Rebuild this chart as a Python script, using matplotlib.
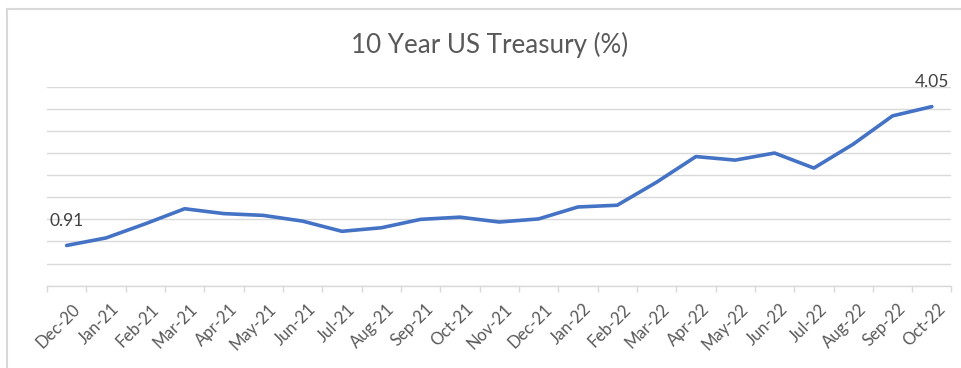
import matplotlib
matplotlib.use('Agg')
import matplotlib.pyplot as plt
import matplotlib.transforms as mtransforms
from matplotlib.lines import Line2D
import numpy as np

months = ['Dec-20', 'Jan-21', 'Feb-21', 'Mar-21', 'Apr-21', 'May-21', 'Jun-21',
          'Jul-21', 'Aug-21', 'Sep-21', 'Oct-21', 'Nov-21', 'Dec-21', 'Jan-22',
          'Feb-22', 'Mar-22', 'Apr-22', 'May-22', 'Jun-22', 'Jul-22', 'Aug-22',
          'Sep-22', 'Oct-22']
yields = [0.91, 1.08, 1.40, 1.74, 1.63, 1.59, 1.46, 1.23, 1.31, 1.50, 1.55,
          1.44, 1.51, 1.78, 1.82, 2.34, 2.92, 2.84, 3.00, 2.66, 3.20, 3.84, 4.05]

plt.rcParams['font.family'] = ['Lato', 'DejaVu Sans']

W, H = 962, 368
fig = plt.figure(figsize=(W / 100, H / 100), dpi=100)
fig.patch.set_facecolor('white')

# chart frame (top and left edges only show)
grey = '#d9d9d9'
fig.add_artist(Line2D([7 / W, 1], [1 - 9 / H, 1 - 9 / H], color=grey, lw=1.5))
fig.add_artist(Line2D([7 / W, 7 / W], [0, 1 - 9 / H], color=grey, lw=1.5))

left, right = 47 / W, 951.5 / W
bottom, top = 1 - 285.7 / H, 1 - 86.7 / H
ax = fig.add_axes([left, bottom, right - left, top - bottom])

x = np.arange(len(months))
ax.plot(x, yields, color='#4472C4', lw=2.6, solid_joinstyle='round',
        solid_capstyle='round', zorder=3)

ax.set_xlim(-0.5, len(months) - 0.5)
ax.set_ylim(0, 4.5)
ax.set_yticks(np.arange(0, 4.51, 0.5))
ax.yaxis.grid(True, color=grey, lw=1)
ax.tick_params(axis='y', left=False, labelleft=False)
for s in ['top', 'right', 'left']:
    ax.spines[s].set_visible(False)
ax.spines['bottom'].set_color(grey)
ax.spines['bottom'].set_linewidth(1)

ax.set_xticks(x)
ax.set_xticklabels(months, rotation=45, ha='right', va='top',
                   rotation_mode='anchor', fontsize=12, color='#595959')
ax.tick_params(axis='x', which='major', length=0, pad=11)
ax.set_xticks(np.arange(-0.5, len(months)), minor=True)
ax.tick_params(axis='x', which='minor', length=4, color=grey, width=1)

# nudge the slanted month labels a little to the right
shift = mtransforms.ScaledTranslation(5 / 100, 0, fig.dpi_scale_trans)
for lbl in ax.get_xticklabels():
    lbl.set_transform(lbl.get_transform() + shift)

# end-point labels
for i in (0, len(months) - 1):
    ax.annotate(f'{yields[i]:.2f}', (x[i], yields[i]), xytext=(0, 12),
                textcoords='offset points', ha='center', va='bottom',
                fontsize=12.5, color='#404040')

fig.text(490 / W, 1 - 45 / H, '10 Year US Treasury (%)', ha='center',
         va='center', fontsize=18.7, color='#595959')

fig.savefig('out.png', dpi=100)
